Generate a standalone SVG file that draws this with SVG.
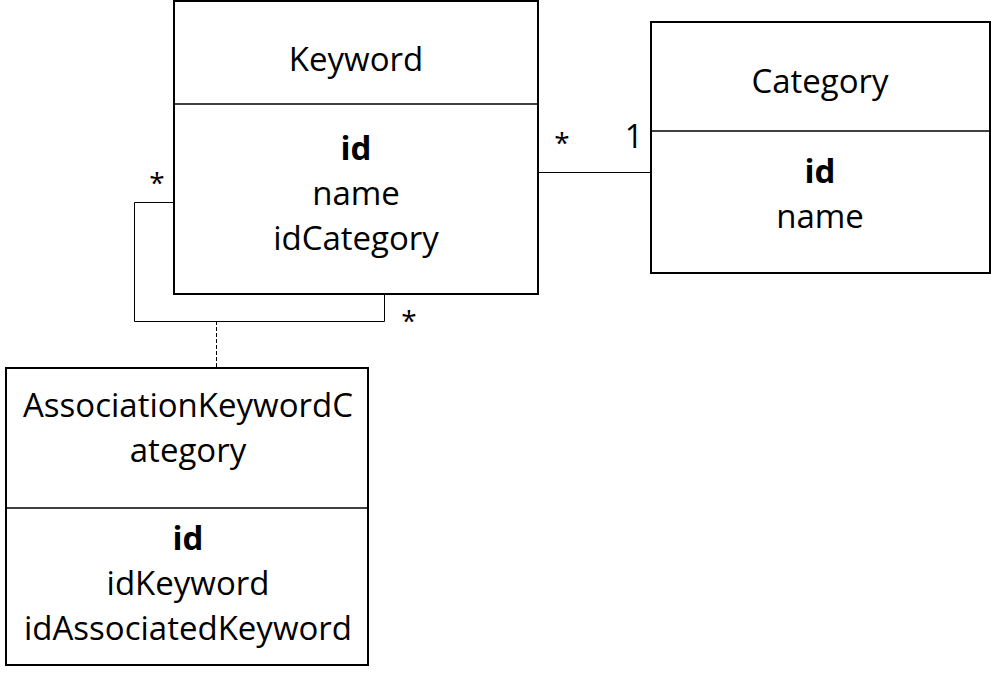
<svg xmlns="http://www.w3.org/2000/svg" width="991" height="674" viewBox="0 0 991 674">
<style>
.box{fill:#fff;stroke:#000;stroke-width:2}
.div{stroke:#000;stroke-width:1.5}
.t{font-family:"Open Sans","Liberation Sans",sans-serif;font-size:33px;fill:#000;text-anchor:middle}
.b{font-weight:bold}
.c{fill:none;stroke:#000;stroke-width:1}
.m{font-family:"Open Sans","Liberation Sans",sans-serif;font-size:28px;fill:#000;text-anchor:middle}
</style>
<rect width="991" height="674" fill="#fff"/>
<g id="connectors">
<line class="c" x1="538" y1="172.5" x2="651" y2="172.5"/>
<polyline class="c" points="174,202.5 134.5,202.5 134.5,321.5 384.5,321.5 384.5,294"/>
<line class="c" x1="216.5" y1="321" x2="216.5" y2="368" stroke-dasharray="4,2"/>
<text class="m" x="562" y="153">*</text>
<text class="m" x="634" y="148" style="font-size:32px">1</text>
<text class="m" x="157" y="193">*</text>
<text class="m" x="409" y="331">*</text>
</g>
<g id="keyword">
<rect class="box" x="174" y="1" width="364" height="293"/>
<line class="div" x1="174" y1="104" x2="538" y2="104"/>
<text class="t" x="356" y="71">Keyword</text>
<text class="t b" x="356" y="160">id</text>
<text class="t" x="356" y="205">name</text>
<text class="t" x="356" y="250">idCategory</text>
</g>
<g id="category">
<rect class="box" x="651" y="22" width="339" height="251"/>
<line class="div" x1="651" y1="131" x2="990" y2="131"/>
<text class="t" x="820" y="93">Category</text>
<text class="t b" x="820" y="183">id</text>
<text class="t" x="820" y="228">name</text>
</g>
<g id="association">
<rect class="box" x="6" y="368" width="362" height="297"/>
<line class="div" x1="6" y1="508" x2="368" y2="508"/>
<text class="t" x="188" y="417">AssociationKeywordC</text>
<text class="t" x="188" y="462">ategory</text>
<text class="t b" x="188" y="550">id</text>
<text class="t" x="188" y="595">idKeyword</text>
<text class="t" x="188" y="640">idAssociatedKeyword</text>
</g>
</svg>
